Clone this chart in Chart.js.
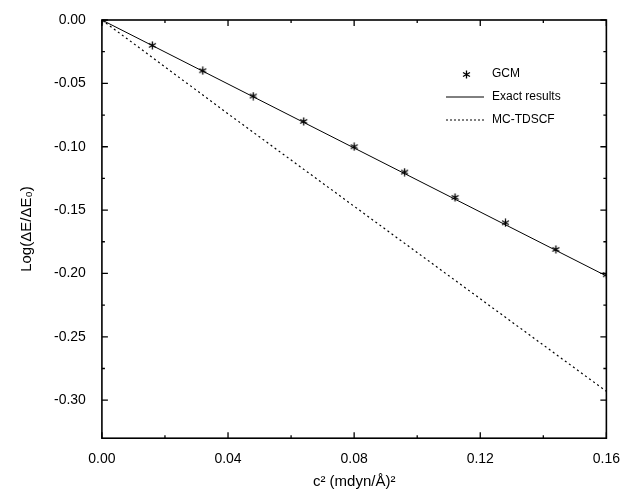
<!DOCTYPE html>
<html>
<head>
<meta charset="utf-8">
<script src="https://cdn.jsdelivr.net/npm/chart.js@4/dist/chart.umd.min.js"></script>
<style>
  body { margin: 0; background: #fff; }
  #wrap { width: 625px; height: 491px; }
</style>
</head>
<body>
<div id="wrap"><canvas id="myChart"></canvas></div>
<script>
// DATA
const gcmX = [0, 0.016, 0.032, 0.048, 0.064, 0.08, 0.096, 0.112, 0.128, 0.144, 0.16];
const gcmY = [0, -0.02, -0.04, -0.06, -0.08, -0.10, -0.12, -0.14, -0.16, -0.181, -0.201];
const exactX = [0, 0.16];
const exactY = [0, -0.202];
const mcX = [0, 0.04, 0.08, 0.12, 0.16];
const mcY = [0, -0.074, -0.147, -0.220, -0.293];
const xTicks = [0, 0.04, 0.08, 0.12, 0.16];
const yTicks = [0, -0.05, -0.10, -0.15, -0.20, -0.25, -0.30];

const toPts = (xs, ys) => xs.map((x, i) => ({ x: x, y: ys[i] }));
const FONT = 'Liberation Sans, Arial, sans-serif';

// star marker for GCM
function starCanvas() {
    const c = document.createElement('canvas');
    c.width = 9; c.height = 9;
    const g = c.getContext('2d');
    g.strokeStyle = '#000'; g.lineWidth = 1.3;
    g.beginPath();
    g.moveTo(4.5, 0.5); g.lineTo(4.5, 8.5);
    g.moveTo(1, 2.5); g.lineTo(8, 6.5);
    g.moveTo(1, 6.5); g.lineTo(8, 2.5);
    g.stroke();
    return c;
}
const star = starCanvas();

// frame, inward ticks and legend
const framePlugin = {
    id: 'frame',
    afterDraw(chart) {
        const { ctx, chartArea: a, scales: { x, y } } = chart;
        ctx.save();
        ctx.strokeStyle = '#000';
        ctx.lineWidth = 1.6;
        ctx.strokeRect(a.left, a.top, a.right - a.left, a.bottom - a.top);
        ctx.lineWidth = 1.3;
        ctx.beginPath();
        for (let v = 0; v <= 0.1601; v += 0.02) {
            const px = x.getPixelForValue(v);
            const major = Math.abs((v / 0.04) - Math.round(v / 0.04)) < 1e-6;
            const len = major ? 6 : 3;
            ctx.moveTo(px, a.bottom); ctx.lineTo(px, a.bottom - len);
            ctx.moveTo(px, a.top); ctx.lineTo(px, a.top + len);
        }
        for (let v = 0; v >= -0.3201; v -= 0.025) {
            const py = y.getPixelForValue(v);
            if (py > a.bottom + 0.5) continue;
            const major = Math.abs((v / 0.05) - Math.round(v / 0.05)) < 1e-6;
            const len = major ? 6 : 3;
            ctx.moveTo(a.left, py); ctx.lineTo(a.left + len, py);
            ctx.moveTo(a.right, py); ctx.lineTo(a.right - len, py);
        }
        ctx.stroke();

        // legend
        const lx = 466, ly = 74;
        ctx.font = '12px ' + FONT;
        ctx.fillStyle = '#000';
        ctx.textBaseline = 'middle';
        ctx.drawImage(star, lx - 4, ly - 4);
        ctx.fillText('GCM', lx + 26, ly);
        ctx.beginPath();
        ctx.lineWidth = 1;
        ctx.moveTo(lx - 20, ly + 23); ctx.lineTo(lx + 18, ly + 23);
        ctx.stroke();
        ctx.fillText('Exact results', lx + 26, ly + 23);
        ctx.beginPath();
        ctx.setLineDash([2, 2]);
        ctx.moveTo(lx - 20, ly + 46); ctx.lineTo(lx + 18, ly + 46);
        ctx.stroke();
        ctx.setLineDash([]);
        ctx.fillText('MC-TDSCF', lx + 26, ly + 46);
        ctx.restore();
    }
};

new Chart(document.getElementById('myChart'), {
    type: 'scatter',
    data: {
        datasets: [
            {
                label: 'Exact results',
                data: toPts(exactX, exactY),
                showLine: true, borderColor: '#000', borderWidth: 1,
                pointRadius: 0
            },
            {
                label: 'MC-TDSCF',
                data: toPts(mcX, mcY),
                showLine: true, borderColor: '#000', borderWidth: 1.2,
                borderDash: [2, 3], pointRadius: 0
            },
            {
                label: 'GCM',
                data: toPts(gcmX, gcmY),
                pointStyle: star, showLine: false
            }
        ]
    },
    options: {
        responsive: true,
        maintainAspectRatio: false,
        animation: false,
        layout: { padding: { top: 20, right: 10, left: 14, bottom: 0 } },
        plugins: { legend: { display: false }, tooltip: { enabled: false } },
        scales: {
            x: {
                type: 'linear', min: 0, max: 0.16,
                grid: { display: false },
                border: { display: false },
                afterBuildTicks: s => { s.ticks = xTicks.map(v => ({ value: v })); },
                ticks: {
                    color: '#000', font: { family: FONT, size: 14 }, padding: 5,
                    callback: v => v.toFixed(2)
                },
                title: {
                    display: true, text: 'c² (mdyn/Å)²', color: '#000',
                    font: { family: FONT, size: 15 }, padding: { top: 0, bottom: 0 }
                }
            },
            y: {
                type: 'linear', min: -0.33, max: 0,
                grid: { display: false },
                border: { display: false },
                afterBuildTicks: s => { s.ticks = yTicks.map(v => ({ value: v })); },
                ticks: {
                    color: '#000', font: { family: FONT, size: 14 }, padding: 8,
                    callback: v => v.toFixed(2)
                },
                title: {
                    display: true, text: 'Log(ΔE/ΔE₀)', color: '#000',
                    font: { family: FONT, size: 15 }, padding: { bottom: 10 }
                }
            }
        }
    },
    plugins: [framePlugin]
});
</script>
</body>
</html>
